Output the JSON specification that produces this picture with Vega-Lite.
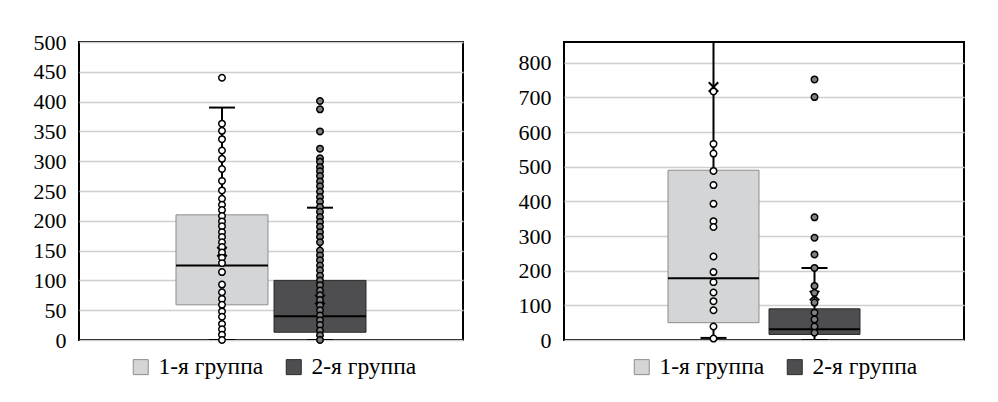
{
  "$schema": "https://vega.github.io/schema/vega-lite/v6.json",
  "background": "white",
  "padding": {"left": 32, "top": 30, "right": 5, "bottom": 5},
  "spacing": 53,
  "config": {
    "font": "Liberation Serif",
    "view": {"stroke": "#000000", "strokeWidth": 2},
    "axis": {"labelFont": "Liberation Serif", "labelFontSize": 22, "labelColor": "#000000", "domain": false, "ticks": false, "gridColor": "#cfcfcf", "gridWidth": 1.5, "labelPadding": 13, "title": null, "labelOverlap": false},
    "legend": {"orient": "none", "direction": "horizontal", "symbolType": "square", "symbolSize": 225, "labelFont": "Liberation Serif", "labelFontSize": 23.5, "labelColor": "#000000", "columnPadding": 18, "labelOffset": 6, "padding": 0, "title": null, "symbolStrokeColor": "#555555", "symbolStrokeWidth": 1}
  },
  "datasets": {
    "boxA": [
      {"group": "1-я группа", "lo": 0, "q1": 59, "median": 125, "q3": 210, "hi": 390, "mean": 148},
      {"group": "2-я группа", "lo": 0, "q1": 13, "median": 40, "q3": 100, "hi": 222, "mean": 68}
    ],
    "ptsA": [
      {"group": "1-я группа", "v": 440}, {"group": "1-я группа", "v": 363}, {"group": "1-я группа", "v": 351}, {"group": "1-я группа", "v": 337}, {"group": "1-я группа", "v": 318}, {"group": "1-я группа", "v": 304}, {"group": "1-я группа", "v": 287}, {"group": "1-я группа", "v": 267}, {"group": "1-я группа", "v": 251}, {"group": "1-я группа", "v": 237}, {"group": "1-я группа", "v": 227}, {"group": "1-я группа", "v": 218}, {"group": "1-я группа", "v": 208}, {"group": "1-я группа", "v": 199}, {"group": "1-я группа", "v": 191}, {"group": "1-я группа", "v": 181}, {"group": "1-я группа", "v": 173}, {"group": "1-я группа", "v": 164}, {"group": "1-я группа", "v": 156}, {"group": "1-я группа", "v": 147}, {"group": "1-я группа", "v": 138}, {"group": "1-я группа", "v": 129}, {"group": "1-я группа", "v": 114}, {"group": "1-я группа", "v": 93}, {"group": "1-я группа", "v": 80}, {"group": "1-я группа", "v": 69}, {"group": "1-я группа", "v": 59}, {"group": "1-я группа", "v": 48}, {"group": "1-я группа", "v": 39}, {"group": "1-я группа", "v": 27}, {"group": "1-я группа", "v": 18}, {"group": "1-я группа", "v": 9}, {"group": "1-я группа", "v": 0},
      {"group": "2-я группа", "v": 401}, {"group": "2-я группа", "v": 387}, {"group": "2-я группа", "v": 350}, {"group": "2-я группа", "v": 321}, {"group": "2-я группа", "v": 305}, {"group": "2-я группа", "v": 299}, {"group": "2-я группа", "v": 290}, {"group": "2-я группа", "v": 283}, {"group": "2-я группа", "v": 275}, {"group": "2-я группа", "v": 266}, {"group": "2-я группа", "v": 258}, {"group": "2-я группа", "v": 249}, {"group": "2-я группа", "v": 240}, {"group": "2-я группа", "v": 232}, {"group": "2-я группа", "v": 223}, {"group": "2-я группа", "v": 215}, {"group": "2-я группа", "v": 206}, {"group": "2-я группа", "v": 198}, {"group": "2-я группа", "v": 190}, {"group": "2-я группа", "v": 181}, {"group": "2-я группа", "v": 173}, {"group": "2-я группа", "v": 164}, {"group": "2-я группа", "v": 150}, {"group": "2-я группа", "v": 142}, {"group": "2-я группа", "v": 134}, {"group": "2-я группа", "v": 125}, {"group": "2-я группа", "v": 117}, {"group": "2-я группа", "v": 108}, {"group": "2-я группа", "v": 100}, {"group": "2-я группа", "v": 92}, {"group": "2-я группа", "v": 83}, {"group": "2-я группа", "v": 75}, {"group": "2-я группа", "v": 67}, {"group": "2-я группа", "v": 58}, {"group": "2-я группа", "v": 50}, {"group": "2-я группа", "v": 41}, {"group": "2-я группа", "v": 33}, {"group": "2-я группа", "v": 25}, {"group": "2-я группа", "v": 16}, {"group": "2-я группа", "v": 8}, {"group": "2-я группа", "v": 0}
    ],
    "boxB": [
      {"group": "1-я группа", "lo": 6, "q1": 50, "median": 178, "q3": 490, "hi": 900, "mean": 730},
      {"group": "2-я группа", "lo": 0, "q1": 16, "median": 31, "q3": 90, "hi": 208, "mean": 128}
    ],
    "ptsB": [
      {"group": "1-я группа", "v": 717}, {"group": "1-я группа", "v": 566}, {"group": "1-я группа", "v": 538}, {"group": "1-я группа", "v": 488}, {"group": "1-я группа", "v": 447}, {"group": "1-я группа", "v": 393}, {"group": "1-я группа", "v": 343}, {"group": "1-я группа", "v": 326}, {"group": "1-я группа", "v": 241}, {"group": "1-я группа", "v": 196}, {"group": "1-я группа", "v": 167}, {"group": "1-я группа", "v": 137}, {"group": "1-я группа", "v": 112}, {"group": "1-я группа", "v": 86}, {"group": "1-я группа", "v": 39}, {"group": "1-я группа", "v": 4},
      {"group": "2-я группа", "v": 752}, {"group": "2-я группа", "v": 701}, {"group": "2-я группа", "v": 354}, {"group": "2-я группа", "v": 295}, {"group": "2-я группа", "v": 247}, {"group": "2-я группа", "v": 208}, {"group": "2-я группа", "v": 156}, {"group": "2-я группа", "v": 136}, {"group": "2-я группа", "v": 108}, {"group": "2-я группа", "v": 79}, {"group": "2-я группа", "v": 59}, {"group": "2-я группа", "v": 39}, {"group": "2-я группа", "v": 21}
    ]
  },
  "hconcat": [
    {
      "width": 384,
      "height": 298,
      "layer": [
        {
          "data": {"name": "boxA"},
          "mark": {"type": "rule", "color": "#000000", "strokeWidth": 2, "clip": true},
          "encoding": {
            "x": {"field": "group", "type": "nominal", "scale": {"type": "band", "domain": ["1-я группа", "2-я группа"], "paddingInner": 0.082, "paddingOuter": 1}, "axis": null},
            "y": {"field": "lo", "type": "quantitative", "scale": {"domain": [0, 500], "nice": false, "zero": true}, "axis": {"values": [0, 50, 100, 150, 200, 250, 300, 350, 400, 450, 500], "grid": true}},
            "y2": {"field": "hi"}
          }
        },
        {
          "data": {"name": "boxA"},
          "mark": {"type": "bar", "width": 92, "strokeWidth": 1, "opacity": 1},
          "encoding": {
            "x": {"field": "group", "type": "nominal"},
            "y": {"field": "q1", "type": "quantitative", "axis": {"values": [0, 50, 100, 150, 200, 250, 300, 350, 400, 450, 500], "grid": true}},
            "y2": {"field": "q3"},
            "color": {"field": "group", "type": "nominal", "scale": {"domain": ["1-я группа", "2-я группа"], "range": ["#d4d5d7", "#4e4e50"]}, "legend": {"legendX": 50, "legendY": 313}},
            "stroke": {"field": "group", "type": "nominal", "scale": {"domain": ["1-я группа", "2-я группа"], "range": ["#8c8c8c", "#2a2a2a"]}, "legend": null}
          }
        },
        {
          "data": {"name": "boxA"},
          "mark": {"type": "tick", "orient": "horizontal", "size": 92, "thickness": 2, "color": "#000000", "opacity": 1},
          "encoding": {"x": {"field": "group", "type": "nominal"}, "y": {"field": "median", "type": "quantitative", "axis": {"values": [0, 50, 100, 150, 200, 250, 300, 350, 400, 450, 500], "grid": true}}}
        },
        {
          "data": {"name": "boxA"},
          "mark": {"type": "tick", "orient": "horizontal", "size": 26, "thickness": 2, "color": "#000000", "opacity": 1, "clip": true},
          "encoding": {"x": {"field": "group", "type": "nominal"}, "y": {"field": "hi", "type": "quantitative", "axis": {"values": [0, 50, 100, 150, 200, 250, 300, 350, 400, 450, 500], "grid": true}}}
        },
        {
          "data": {"name": "boxA"},
          "mark": {"type": "tick", "orient": "horizontal", "size": 26, "thickness": 2, "color": "#000000", "opacity": 1, "clip": true},
          "encoding": {"x": {"field": "group", "type": "nominal"}, "y": {"field": "lo", "type": "quantitative", "axis": {"values": [0, 50, 100, 150, 200, 250, 300, 350, 400, 450, 500], "grid": true}}}
        },
        {
          "data": {"name": "boxA"},
          "mark": {"type": "point", "shape": "M-1,-1L1,1M1,-1L-1,1", "size": 90, "filled": false, "stroke": "#000000", "strokeWidth": 2, "opacity": 1},
          "encoding": {"x": {"field": "group", "type": "nominal"}, "y": {"field": "mean", "type": "quantitative", "axis": {"values": [0, 50, 100, 150, 200, 250, 300, 350, 400, 450, 500], "grid": true}}}
        },
        {
          "data": {"name": "ptsA"},
          "mark": {"type": "point", "shape": "circle", "filled": true, "size": 42, "stroke": "#000000", "strokeWidth": 1.5, "opacity": 1},
          "encoding": {
            "x": {"field": "group", "type": "nominal"},
            "y": {"field": "v", "type": "quantitative", "axis": {"values": [0, 50, 100, 150, 200, 250, 300, 350, 400, 450, 500], "grid": true}},
            "fill": {"field": "group", "type": "nominal", "scale": {"domain": ["1-я группа", "2-я группа"], "range": ["#ffffff", "#7f7f7f"]}, "legend": null}
          }
        }
      ]
    },
    {
      "width": 400,
      "height": 298,
      "layer": [
        {
          "data": {"name": "boxB"},
          "mark": {"type": "rule", "color": "#000000", "strokeWidth": 2, "clip": true},
          "encoding": {
            "x": {"field": "group", "type": "nominal", "scale": {"type": "band", "domain": ["1-я группа", "2-я группа"], "paddingInner": 0.04, "paddingOuter": 1}, "axis": null},
            "y": {"field": "lo", "type": "quantitative", "scale": {"domain": [0, 860], "nice": false, "zero": true}, "axis": {"values": [0, 100, 200, 300, 400, 500, 600, 700, 800], "grid": true}},
            "y2": {"field": "hi"}
          }
        },
        {
          "data": {"name": "boxB"},
          "mark": {"type": "bar", "width": 91, "strokeWidth": 1, "opacity": 1},
          "encoding": {
            "x": {"field": "group", "type": "nominal"},
            "y": {"field": "q1", "type": "quantitative", "axis": {"values": [0, 100, 200, 300, 400, 500, 600, 700, 800], "grid": true}},
            "y2": {"field": "q3"},
            "color": {"field": "group", "type": "nominal", "scale": {"domain": ["1-я группа", "2-я группа"], "range": ["#d4d5d7", "#4e4e50"]}, "legend": {"legendX": 66, "legendY": 313}},
            "stroke": {"field": "group", "type": "nominal", "scale": {"domain": ["1-я группа", "2-я группа"], "range": ["#8c8c8c", "#2a2a2a"]}, "legend": null}
          }
        },
        {
          "data": {"name": "boxB"},
          "mark": {"type": "tick", "orient": "horizontal", "size": 91, "thickness": 2, "color": "#000000", "opacity": 1},
          "encoding": {"x": {"field": "group", "type": "nominal"}, "y": {"field": "median", "type": "quantitative", "axis": {"values": [0, 100, 200, 300, 400, 500, 600, 700, 800], "grid": true}}}
        },
        {
          "data": {"name": "boxB"},
          "mark": {"type": "tick", "orient": "horizontal", "size": 26, "thickness": 2, "color": "#000000", "opacity": 1, "clip": true},
          "encoding": {"x": {"field": "group", "type": "nominal"}, "y": {"field": "hi", "type": "quantitative", "axis": {"values": [0, 100, 200, 300, 400, 500, 600, 700, 800], "grid": true}}}
        },
        {
          "data": {"name": "boxB"},
          "mark": {"type": "tick", "orient": "horizontal", "size": 26, "thickness": 2, "color": "#000000", "opacity": 1, "clip": true},
          "encoding": {"x": {"field": "group", "type": "nominal"}, "y": {"field": "lo", "type": "quantitative", "axis": {"values": [0, 100, 200, 300, 400, 500, 600, 700, 800], "grid": true}}}
        },
        {
          "data": {"name": "boxB"},
          "mark": {"type": "point", "shape": "M-1,-1L1,1M1,-1L-1,1", "size": 90, "filled": false, "stroke": "#000000", "strokeWidth": 2, "opacity": 1},
          "encoding": {"x": {"field": "group", "type": "nominal"}, "y": {"field": "mean", "type": "quantitative", "axis": {"values": [0, 100, 200, 300, 400, 500, 600, 700, 800], "grid": true}}}
        },
        {
          "data": {"name": "ptsB"},
          "mark": {"type": "point", "shape": "circle", "filled": true, "size": 42, "stroke": "#000000", "strokeWidth": 1.5, "opacity": 1},
          "encoding": {
            "x": {"field": "group", "type": "nominal"},
            "y": {"field": "v", "type": "quantitative", "axis": {"values": [0, 100, 200, 300, 400, 500, 600, 700, 800], "grid": true}},
            "fill": {"field": "group", "type": "nominal", "scale": {"domain": ["1-я группа", "2-я группа"], "range": ["#ffffff", "#7f7f7f"]}, "legend": null}
          }
        }
      ]
    }
  ],
  "resolve": {
    "scale": {"color": "independent", "fill": "independent", "stroke": "independent", "y": "independent", "x": "independent"},
    "legend": {"color": "independent", "fill": "independent", "stroke": "independent"}
  }
}
